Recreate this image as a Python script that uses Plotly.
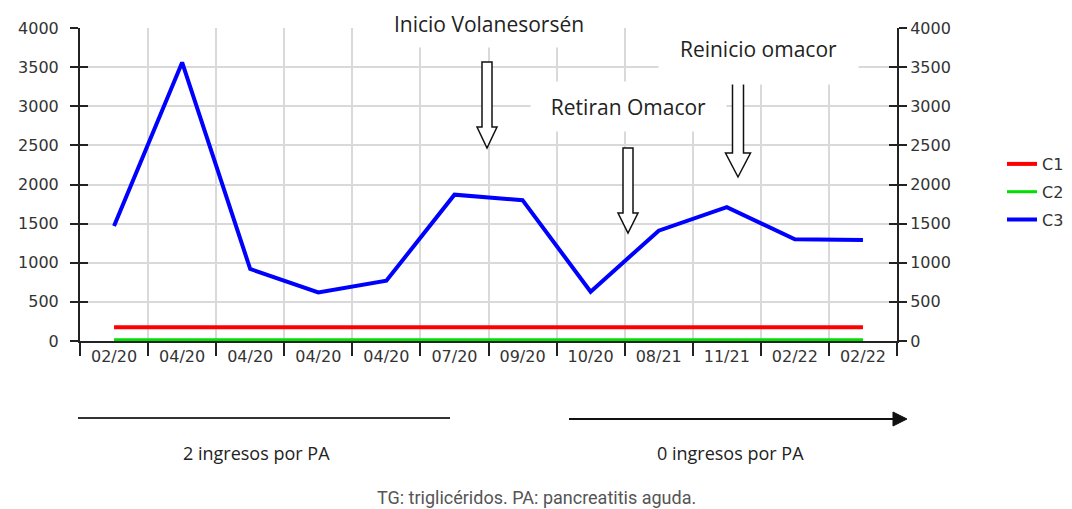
import plotly.graph_objects as go

# ---- data ----
dates = ["02/20", "04/20", "04/20", "04/20", "04/20", "07/20", "09/20", "10/20",
         "08/21", "11/21", "02/22", "02/22"]
c1 = [175] * 12
c2 = [15] * 12
c3 = [1470, 3560, 920, 620, 770, 1870, 1800, 630, 1410, 1710, 1300, 1290]
y_ticks = [0, 500, 1000, 1500, 2000, 2500, 3000, 3500, 4000]

# unique category keys (duplicate labels kept visually identical)
seen = {}
cats = []
for d in dates:
    n = seen.get(d, 0)
    cats.append(d + "\u200b" * n)
    seen[d] = n + 1

W, H = 1072, 509
L, R, T, B = 80, 897, 28, 341


def px(x):
    return (x - L) / (R - L)


def py(y):
    return (B - y) / (B - T)


fig = go.Figure()
fig.add_trace(go.Scatter(x=cats, y=c1, mode="lines", name="C1",
                         line=dict(color="#ff0000", width=4), legendgroup="a"))
fig.add_trace(go.Scatter(x=cats, y=c2, mode="lines", name="C2",
                         line=dict(color="#00e000", width=3), legendgroup="b"))
fig.add_trace(go.Scatter(x=cats, y=c3, mode="lines", name="C3",
                         line=dict(color="#0000ff", width=4), legendgroup="c"))
for ax in ["y2", "y3", "y4"]:
    fig.add_trace(go.Scatter(x=[cats[0]], y=[None], yaxis=ax, showlegend=False,
                             hoverinfo="skip"))

tickfont = dict(family="DejaVu Sans", size=16, color="#333333")
yax_common = dict(range=[0, 4000], tickvals=y_ticks, showline=True, linecolor="#222222",
                  linewidth=2, tickcolor="#222222", tickwidth=2, ticklen=8, fixedrange=True,
                  automargin=False)

fig.update_layout(
    width=W, height=H,
    margin=dict(l=L, r=W - R, t=T, b=H - B, autoexpand=False),
    plot_bgcolor="white", paper_bgcolor="white",
    xaxis=dict(type="category", tickson="boundaries", ticks="outside", ticklen=13,
               range=[-0.5, len(cats) - 0.5], automargin=False,
               tickcolor="#222222", tickwidth=2, showline=True, linecolor="#222222",
               linewidth=2, showgrid=True, gridcolor="#d9d9d9", gridwidth=2,
               tickfont=tickfont, ticktext=dates, tickvals=cats, tickmode="array"),
    yaxis=dict(**yax_common, ticks="outside", showgrid=True, gridcolor="#d9d9d9",
               gridwidth=2, tickfont=tickfont, ticklabelstandoff=8, zeroline=False),
    yaxis2=dict(**yax_common, overlaying="y", side="right", ticks="outside",
                showgrid=False, tickfont=tickfont, ticklabelstandoff=0, zeroline=False),
    yaxis3=dict(**yax_common, overlaying="y", side="left", ticks="inside",
                showgrid=False, showticklabels=False, zeroline=False),
    yaxis4=dict(**yax_common, overlaying="y", side="right", ticks="inside",
                showgrid=False, showticklabels=False, zeroline=False),
    legend=dict(x=px(1002), y=py(192), xanchor="left", yanchor="middle",
                font=dict(family="DejaVu Sans", size=16, color="#333333"),
                tracegroupgap=4, itemwidth=30, bgcolor="rgba(0,0,0,0)"),
    showlegend=True,
)

annfont = dict(family="Open Sans", size=21, color="#222222")
boxes = [
    ("Inicio Volanesorsén", 375, 603, 2, 46),
    ("Reinicio omacor", 660, 857, 15, 83),
    ("Retiran Omacor", 532, 725, 83, 130),
]
for text, x0, x1, y0, y1 in boxes:
    fig.add_annotation(text=text, xref="paper", yref="paper",
                       x=px((x0 + x1) / 2), y=py((y0 + y1) / 2),
                       xanchor="center", yanchor="middle", showarrow=False,
                       width=x1 - x0, height=y1 - y0, bgcolor="white",
                       font=annfont)

# hollow block arrows: (center x, shaft half width, head half width, top, shaft bottom, tip)
arrows = [
    (487, 5, 10, 62, 127, 148),
    (628, 5, 10, 148, 213, 233),
    (738, 5.5, 12.5, 83, 153, 177),
]
for cx, sw, hw, top, sb, tip in arrows:
    pts = [(cx - sw, top), (cx + sw, top), (cx + sw, sb), (cx + hw, sb), (cx, tip),
           (cx - hw, sb), (cx - sw, sb)]
    path = "M " + " L ".join(f"{px(a):.5f},{py(b):.5f}" for a, b in pts) + " Z"
    fig.add_shape(type="path", path=path, xref="paper", yref="paper",
                  fillcolor="white", line=dict(color="#111111", width=1.5), layer="above")

# bottom timeline
fig.add_shape(type="line", xref="paper", yref="paper", x0=px(78), x1=px(450),
              y0=py(418), y1=py(418), line=dict(color="#333333", width=2))
fig.add_shape(type="line", xref="paper", yref="paper", x0=px(569), x1=px(895),
              y0=py(419), y1=py(419), line=dict(color="#111111", width=2))
tri = [(893, 412), (907, 419), (893, 426)]
fig.add_shape(type="path", xref="paper", yref="paper",
              path="M " + " L ".join(f"{px(a):.5f},{py(b):.5f}" for a, b in tri) + " Z",
              fillcolor="#111111", line=dict(color="#111111", width=1))

lowfont = dict(family="Open Sans", size=18, color="#222222")
fig.add_annotation(text="2 ingresos por PA", xref="paper", yref="paper",
                   x=px(256), y=py(453), showarrow=False, font=lowfont,
                   xanchor="center", yanchor="middle")
fig.add_annotation(text="0 ingresos por PA", xref="paper", yref="paper",
                   x=px(730), y=py(453), showarrow=False, font=lowfont,
                   xanchor="center", yanchor="middle")
fig.add_annotation(text="TG: triglicéridos. PA: pancreatitis aguda.", xref="paper",
                   yref="paper", x=px(536), y=py(497), showarrow=False,
                   font=dict(family="Liberation Sans Narrow, Roboto, sans-serif", size=18,
                             color="#555555"),
                   xanchor="center", yanchor="middle")

fig.write_html("out.html", config={"displayModeBar": False},
               post_script="document.body.style.margin='0';")
